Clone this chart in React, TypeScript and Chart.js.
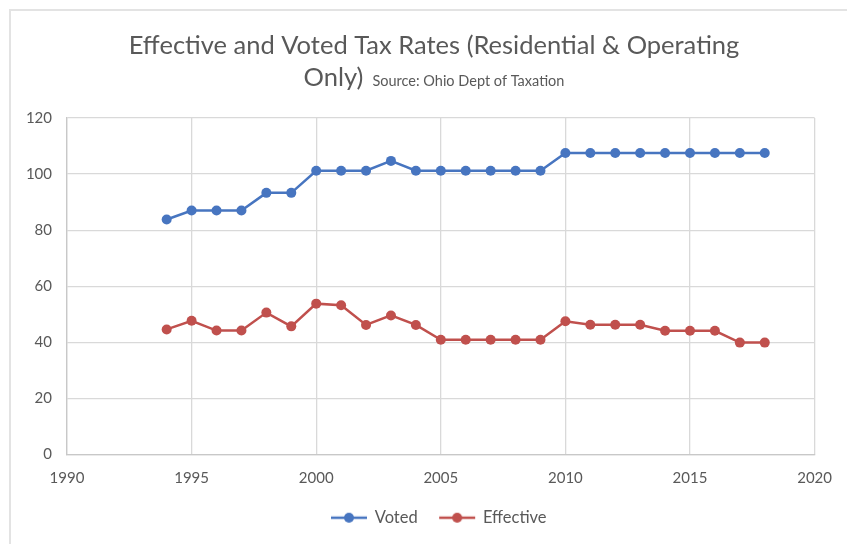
import React, { useEffect, useRef } from "react";
import { Chart, registerables } from "chart.js";

Chart.register(...registerables);

const years = [1994, 1995, 1996, 1997, 1998, 1999, 2000, 2001, 2002, 2003, 2004, 2005, 2006, 2007, 2008, 2009, 2010, 2011, 2012, 2013, 2014, 2015, 2016, 2017, 2018];
const voted = [83.8, 87, 87, 87, 93.3, 93.3, 101.2, 101.2, 101.2, 104.7, 101.2, 101.2, 101.2, 101.2, 101.2, 101.2, 107.5, 107.5, 107.5, 107.5, 107.5, 107.5, 107.5, 107.5, 107.5];
const effective = [44.6, 47.7, 44.2, 44.2, 50.6, 45.7, 53.8, 53.2, 46.2, 49.6, 46.2, 40.9, 40.9, 40.9, 40.9, 40.9, 47.5, 46.3, 46.3, 46.3, 44.1, 44.1, 44.1, 39.9, 39.9];
const seriesNames = ["Voted", "Effective"];
const titleLine1 = "Effective and Voted Tax Rates (Residential & Operating";
const titleLine2Main = "Only)";
const titleLine2Source = "Source: Ohio Dept of Taxation";

const BLUE = "#4775C0";
const RED = "#C0504D";
const FONT = "Lato, 'Open Sans', sans-serif";

function legendMarker(color: string): HTMLCanvasElement {
  const c = document.createElement("canvas");
  c.width = 38;
  c.height = 14;
  const ctx = c.getContext("2d")!;
  ctx.strokeStyle = color;
  ctx.lineWidth = 2.5;
  ctx.beginPath();
  ctx.moveTo(1, 7);
  ctx.lineTo(37, 7);
  ctx.stroke();
  ctx.fillStyle = color;
  ctx.beginPath();
  ctx.arc(19, 7, 5, 0, Math.PI * 2);
  ctx.fill();
  return c;
}

const decorPlugin = {
  id: "decor",
  afterLayout(chart: any) {
    if (chart.legend) {
      chart.legend.left += 60;
    }
  },
  beforeDraw(chart: any) {
    const ctx = chart.ctx;
    ctx.save();
    ctx.strokeStyle = "#e3e3e3";
    ctx.lineWidth = 2;
    ctx.beginPath();
    ctx.moveTo(10, chart.height);
    ctx.lineTo(10, 10);
    ctx.lineTo(chart.width, 10);
    ctx.stroke();
    ctx.restore();
  },
  afterDraw(chart: any) {
    const ctx = chart.ctx;
    ctx.save();
    ctx.fillStyle = "#595959";
    ctx.textBaseline = "alphabetic";
    ctx.textAlign = "center";
    ctx.font = `25.5px ${FONT}`;
    ctx.fillText(titleLine1, 434, 54);
    const w1 = ctx.measureText(titleLine2Main).width;
    ctx.font = `14.5px ${FONT}`;
    const w2 = ctx.measureText(titleLine2Source).width;
    const gap = 9;
    const total = w1 + gap + w2;
    const start = 434 - total / 2;
    ctx.textAlign = "left";
    ctx.font = `25.5px ${FONT}`;
    ctx.fillText(titleLine2Main, start, 86);
    ctx.font = `14.5px ${FONT}`;
    ctx.fillText(titleLine2Source, start + w1 + gap, 86);
    ctx.restore();
  },
};

export default function App() {
  const ref = useRef<HTMLCanvasElement | null>(null);
  useEffect(() => {
    if (!ref.current) return;
    const markers = [legendMarker(BLUE), legendMarker(RED)];
    const chart = new Chart(ref.current, {
      type: "line",
      data: {
        datasets: [
          {
            label: seriesNames[0],
            data: years.map((y, i) => ({ x: y, y: voted[i] })),
            borderColor: BLUE,
            backgroundColor: BLUE,
            borderWidth: 2.5,
            pointRadius: 5,
            pointBorderWidth: 0,
            pointBackgroundColor: BLUE,
          },
          {
            label: seriesNames[1],
            data: years.map((y, i) => ({ x: y, y: effective[i] })),
            borderColor: RED,
            backgroundColor: RED,
            borderWidth: 2.5,
            pointRadius: 5,
            pointBorderWidth: 0,
            pointBackgroundColor: RED,
          },
        ],
      },
      options: {
        animation: false,
        responsive: false,
        maintainAspectRatio: false,
        layout: { padding: { top: 118, right: 29, left: 0, bottom: 8 } },
        scales: {
          x: {
            type: "linear",
            min: 1990,
            max: 2020,
            ticks: {
              stepSize: 5,
              color: "#595959",
              font: { family: FONT, size: 15 },
              padding: 15,
              callback: (v: any) => String(v),
            },
            grid: { color: "#d9d9d9", lineWidth: 1.3, drawTicks: false },
            border: { color: "#c8c8c8", width: 1.3 },
            afterFit: (s: any) => {
              s.height = 33;
            },
          },
          y: {
            min: 0,
            max: 120,
            ticks: {
              stepSize: 20,
              color: "#595959",
              font: { family: FONT, size: 15 },
              padding: 15,
            },
            grid: { color: "#d9d9d9", lineWidth: 1.3, drawTicks: false },
            border: { color: "#c8c8c8", width: 1.3 },
            afterFit: (s: any) => {
              s.width = 67;
            },
          },
        },
        plugins: {
          title: { display: false },
          tooltip: { enabled: false },
          legend: {
            position: "bottom",
            labels: {
              usePointStyle: true,
              pointStyleWidth: 35,
              color: "#595959",
              font: { family: FONT, size: 16.5 },
              padding: 22,
              generateLabels: (c: any) => {
                const base = Chart.defaults.plugins.legend.labels.generateLabels(c);
                return base.map((l: any, i: number) => ({ ...l, pointStyle: markers[i] }));
              },
            },
          },
        },
      },
      plugins: [decorPlugin],
    });
    return () => chart.destroy();
  }, []);
  return (
    <div style={{ position: "fixed", left: 0, top: 0, width: 847, height: 544, background: "#fff" }}>
      <canvas ref={ref} width={847} height={544} style={{ width: 847, height: 544 }} />
    </div>
  );
}
